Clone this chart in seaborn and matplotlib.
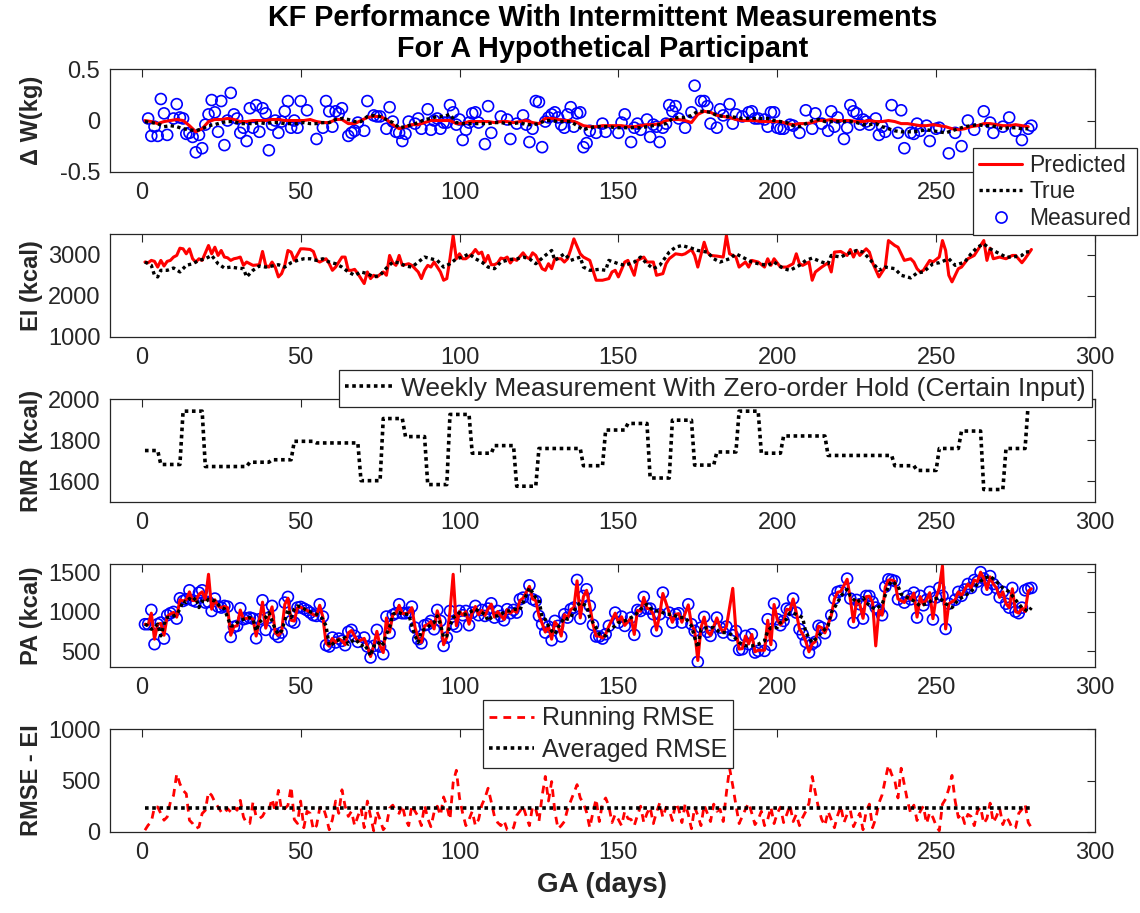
import numpy as np
import pandas as pd
import matplotlib
matplotlib.use("Agg")
import matplotlib.pyplot as plt
import seaborn as sns
from matplotlib.lines import Line2D

sns.set_theme(style="white")
plt.rcParams["font.family"] = ["Liberation Sans", "DejaVu Sans"]
plt.rcParams["axes.unicode_minus"] = False

# ---------------- DATA ----------------
# common two-day grid used by the smoother lines
grid_days = list(range(1, 281, 2))
all_days = list(range(1, 281))

dw_pred = [
    0.00, -0.01, -0.03, -0.01, 0.00, 0.01, 0.00, -0.05, -0.11, -0.08,
    -0.01, 0.01, 0.01, 0.02, 0.01, -0.01, -0.01, 0.00, 0.00, 0.00,
    0.01, 0.01, 0.00, 0.00, 0.00, 0.00, 0.01, -0.01, -0.02, -0.02,
    0.01, 0.01, -0.03, -0.03, 0.00, 0.03, 0.04, 0.04, 0.01, -0.04,
    -0.08, -0.06, -0.04, -0.04, -0.02, 0.00, 0.00, 0.00, 0.00, -0.03,
    -0.03, -0.01, -0.01, -0.01, -0.01, -0.02, -0.01, -0.01, -0.02, -0.01,
    0.00, -0.02, -0.03, 0.02, 0.02, 0.01, 0.00, 0.00, -0.02, -0.05,
    -0.06, -0.06, -0.05, -0.05, -0.05, -0.05, -0.06, -0.06, -0.05, -0.04,
    -0.04, -0.03, 0.00, 0.01, 0.01, 0.00, -0.02, 0.06, 0.09, 0.08,
    0.05, 0.04, 0.03, 0.01, 0.00, 0.00, 0.00, -0.01, -0.01, -0.01,
    -0.01, -0.03, -0.04, -0.03, -0.03, -0.02, 0.00, 0.00, 0.01, 0.00,
    0.00, 0.00, -0.01, -0.01, 0.00, -0.01, -0.01, 0.00, -0.01, -0.03,
    -0.03, -0.04, -0.05, -0.05, -0.04, -0.05, -0.06, -0.08, -0.09, -0.08,
    -0.06, -0.05, -0.03, -0.03, -0.04, -0.05, -0.05, -0.04, -0.05, -0.06]

dw_true = [
    -0.01, -0.02, -0.03, -0.06, -0.05, -0.06, -0.08, -0.09, -0.10, -0.08,
    -0.05, -0.04, -0.02, -0.01, -0.01, -0.03, -0.03, -0.03, -0.02, -0.03,
    -0.02, -0.02, -0.03, -0.03, -0.03, -0.02, -0.03, -0.03, -0.02, -0.02,
    0.01, 0.02, 0.01, -0.01, -0.01, 0.04, 0.05, 0.04, 0.01, -0.02,
    -0.07, -0.06, -0.04, -0.02, 0.01, 0.02, 0.04, 0.04, 0.06, -0.02,
    -0.03, -0.03, -0.03, -0.03, -0.03, -0.02, -0.02, -0.03, -0.03, -0.02,
    -0.04, -0.04, -0.03, 0.00, 0.00, -0.01, -0.01, -0.01, -0.05, -0.09,
    -0.07, -0.06, -0.06, -0.06, -0.07, -0.07, -0.07, -0.07, -0.07, -0.06,
    -0.05, -0.04, -0.03, 0.02, 0.03, 0.03, 0.05, 0.09, 0.09, 0.08,
    0.05, 0.04, 0.04, 0.03, 0.02, 0.02, 0.02, 0.02, 0.02, 0.00,
    -0.01, -0.02, -0.05, -0.06, -0.03, 0.00, 0.01, -0.01, -0.01, -0.01,
    -0.01, -0.01, -0.02, -0.04, -0.04, -0.03, -0.06, -0.08, -0.10, -0.11,
    -0.11, -0.11, -0.10, -0.09, -0.10, -0.11, -0.12, -0.10, -0.08, -0.06,
    -0.05, -0.04, -0.05, -0.05, -0.06, -0.08, -0.07, -0.07, -0.08, -0.08]

dw_meas_days = [
    2, 3, 4, 5, 6, 7, 8, 10, 11, 12, 13, 14, 15, 16, 17, 18, 19, 20, 21, 22,
    23, 24, 25, 26, 27, 28, 29, 30, 31, 32, 33, 34, 35, 36, 37, 38, 39, 40, 41, 42,
    43, 44, 45, 46, 47, 48, 49, 50, 52, 55, 57, 58, 59, 60, 61, 62, 63, 65, 66, 67,
    68, 70, 71, 73, 74, 75, 77, 78, 79, 80, 81, 82, 83, 84, 86, 87, 88, 90, 91, 92,
    93, 94, 95, 96, 97, 98, 99, 100, 101, 102, 103, 104, 105, 106, 108, 109, 110, 113, 115, 116,
    118, 120, 121, 122, 123, 124, 125, 126, 127, 128, 129, 130, 131, 132, 133, 134, 135, 136, 137, 138,
    139, 140, 141, 143, 145, 146, 150, 151, 152, 154, 155, 156, 157, 159, 160, 161, 162, 163, 164, 165,
    166, 167, 168, 169, 171, 173, 174, 176, 177, 178, 179, 181, 182, 183, 185, 186, 187, 189, 191, 192,
    193, 194, 196, 197, 198, 199, 200, 201, 202, 204, 205, 207, 209, 211, 212, 214, 216, 217, 218, 219,
    221, 222, 223, 224, 225, 226, 227, 228, 229, 231, 232, 233, 234, 236, 238, 239, 240, 242, 243, 244,
    245, 247, 248, 250, 251, 254, 256, 258, 260, 262, 265, 267, 268, 271, 273, 275, 277, 279, 280]
dw_meas = [
    0.02, -0.15, -0.06, -0.15, 0.21, 0.07, -0.14, 0.02, 0.16, 0.03, 0.02, -0.13, -0.12, -0.16, -0.31, -0.14, -0.27, -0.04, 0.06, 0.20,
    0.08, -0.11, 0.19, -0.24, 0.00, 0.27, 0.06, 0.02, -0.12, -0.07, -0.20, 0.12, -0.07, 0.15, -0.11, 0.12, 0.07, -0.29, -0.04, 0.00,
    -0.12, -0.01, 0.09, 0.19, -0.07, 0.00, -0.07, 0.19, 0.10, -0.18, -0.07, 0.19, 0.09, -0.06, 0.09, 0.07, 0.12, -0.15, -0.12, -0.10,
    -0.02, -0.10, 0.19, 0.05, 0.04, 0.04, -0.08, 0.13, -0.01, -0.11, -0.12, -0.20, -0.13, -0.01, -0.03, 0.02, -0.08, 0.11, -0.09, 0.00,
    0.02, -0.08, -0.02, -0.02, 0.15, 0.08, -0.04, 0.01, -0.19, -0.09, -0.02, 0.07, 0.08, -0.02, -0.23, 0.14, -0.12, 0.04, 0.01, -0.18,
    -0.03, 0.05, -0.04, -0.21, -0.08, 0.19, 0.18, -0.26, -0.01, 0.03, 0.06, 0.08, 0.03, -0.04, -0.07, 0.06, 0.13, -0.06, 0.07, 0.08,
    -0.26, -0.22, -0.10, -0.12, -0.03, -0.11, -0.12, -0.02, 0.06, -0.21, -0.07, -0.03, -0.09, 0.01, -0.16, -0.04, -0.06, -0.21, -0.07, -0.03,
    0.15, 0.09, 0.14, 0.02, -0.07, 0.08, 0.34, 0.19, 0.19, 0.14, -0.03, -0.07, 0.11, 0.05, 0.16, -0.03, 0.06, 0.04, 0.08, 0.09,
    0.02, 0.02, 0.01, -0.06, 0.08, 0.08, -0.07, -0.08, -0.08, -0.04, -0.05, -0.12, 0.10, -0.08, 0.07, -0.03, -0.10, 0.09, -0.06, 0.03,
    -0.18, -0.07, 0.15, 0.09, 0.07, -0.04, 0.01, -0.01, -0.04, 0.02, -0.14, -0.06, -0.11, 0.15, -0.12, 0.10, -0.27, -0.12, -0.13, -0.03,
    -0.10, -0.05, -0.20, -0.08, -0.07, -0.32, -0.12, -0.25, 0.00, -0.09, 0.09, -0.02, -0.12, -0.06, 0.03, -0.10, -0.19, -0.08, -0.05]

ei_pred_days = [
    1, 2, 3, 4, 5, 6, 7, 8, 9, 10, 11, 12, 13, 14, 15, 16, 17, 18, 19, 21,
    22, 23, 24, 25, 26, 27, 28, 29, 30, 31, 32, 33, 34, 35, 37, 38, 39, 40, 41, 42,
    43, 44, 45, 46, 47, 48, 50, 51, 53, 54, 55, 56, 58, 59, 60, 61, 63, 64, 65, 66,
    67, 68, 70, 71, 72, 73, 74, 76, 77, 78, 79, 80, 81, 82, 84, 85, 87, 88, 89, 90,
    91, 92, 94, 95, 96, 97, 98, 99, 100, 101, 102, 104, 105, 106, 107, 108, 109, 110, 111, 112,
    113, 114, 115, 116, 117, 118, 120, 121, 122, 123, 124, 126, 127, 128, 129, 130, 132, 133, 134, 135,
    136, 138, 139, 141, 142, 143, 145, 147, 148, 149, 150, 152, 153, 155, 156, 157, 158, 159, 161, 162,
    164, 165, 166, 168, 170, 171, 173, 174, 175, 177, 178, 179, 181, 183, 184, 185, 187, 188, 190, 191,
    192, 194, 196, 197, 198, 199, 201, 203, 205, 206, 207, 208, 210, 211, 212, 214, 216, 217, 218, 220,
    222, 223, 224, 225, 226, 228, 229, 230, 232, 234, 235, 237, 238, 240, 242, 243, 244, 245, 246, 248,
    249, 251, 252, 253, 254, 255, 257, 258, 260, 262, 263, 265, 266, 267, 268, 270, 272, 274, 275, 277,
    278, 280]
ei_pred = [
    2823, 2806, 2863, 2840, 2700, 2863, 2726, 2840, 2863, 2944, 2984, 3161, 3145, 3024, 3145, 2903, 2823, 2903, 2863, 3226,
    3024, 3185, 2984, 3105, 2944, 2927, 2863, 2903, 2919, 2944, 2742, 2823, 2782, 2742, 2758, 3081, 2742, 2700, 2823, 2700,
    2460, 2540, 2742, 3105, 3065, 2863, 3145, 3145, 3129, 3081, 2863, 2823, 2903, 2782, 2621, 2700, 2944, 2944, 2621, 2621,
    2645, 2540, 2298, 2581, 2419, 2500, 2460, 2581, 2500, 2984, 2806, 2742, 2984, 2742, 2782, 2742, 2581, 2419, 2621, 2742,
    2700, 2823, 2581, 2379, 2419, 2903, 3468, 2903, 3024, 2903, 2903, 3024, 3129, 3024, 3065, 2823, 2984, 2758, 2758, 2800,
    2920, 2900, 2944, 2800, 2900, 2863, 3048, 2944, 2903, 3048, 2984, 2661, 2621, 2782, 2661, 2903, 2903, 2823, 2903, 3129,
    3387, 3024, 2944, 2863, 2621, 2379, 2379, 2419, 2581, 2621, 2460, 2823, 2863, 2500, 2863, 2903, 2944, 2823, 2823, 2500,
    2540, 2782, 2903, 3024, 3000, 3024, 3129, 2984, 2700, 3306, 3065, 2984, 2968, 2944, 3470, 3024, 2944, 2700, 2823, 2700,
    2863, 2823, 2700, 2903, 2742, 2903, 2700, 2700, 2782, 3024, 2782, 2742, 2823, 2379, 2581, 2700, 2806, 2581, 3065, 3081,
    2984, 3129, 2944, 3105, 2984, 3145, 3065, 2806, 2460, 2700, 3347, 3226, 3185, 2863, 2903, 2823, 2661, 2581, 2621, 2863,
    2823, 2944, 3347, 3105, 2500, 2339, 2661, 2700, 2903, 2984, 3105, 3347, 2863, 3161, 2903, 2944, 2903, 2984, 2984, 2806,
    2903, 3129]

ei_true_days = [
    1, 3, 4, 5, 6, 8, 10, 12, 14, 16, 18, 20, 22, 24, 26, 28, 30, 32, 33, 35,
    37, 39, 41, 43, 45, 47, 49, 51, 53, 55, 57, 59, 61, 63, 65, 67, 69, 71, 73, 75,
    77, 79, 81, 83, 85, 87, 89, 91, 93, 95, 97, 99, 101, 103, 105, 107, 109, 111, 113, 116,
    118, 120, 122, 124, 127, 129, 130, 133, 135, 138, 139, 141, 144, 146, 147, 150, 152, 155, 157, 159,
    161, 163, 166, 168, 170, 173, 175, 178, 180, 182, 185, 187, 190, 192, 194, 197, 199, 202, 204, 207,
    209, 211, 214, 216, 217, 220, 222, 225, 227, 229, 232, 234, 237, 239, 242, 244, 246, 249, 251, 254,
    256, 259, 261, 263, 265, 267, 269, 272, 274, 277, 278, 280]
ei_true = [
    2823, 2742, 2500, 2460, 2621, 2621, 2677, 2581, 2742, 2782, 2863, 2903, 2984, 2782, 2677, 2700, 2677, 2661, 2460, 2621,
    2726, 2700, 2726, 2758, 2700, 2806, 2863, 2903, 2903, 2863, 2903, 2823, 2782, 2700, 2581, 2500, 2581, 2540, 2460, 2500,
    2677, 2823, 2806, 2726, 2700, 2823, 2944, 2903, 2863, 2700, 2782, 2903, 2944, 3024, 2903, 2823, 2700, 2661, 2823, 2887,
    2900, 2944, 2903, 2782, 2984, 3105, 2863, 3024, 2863, 2944, 2700, 2621, 2645, 2621, 2863, 2782, 2742, 2823, 2944, 2782,
    2661, 2742, 3065, 3185, 3226, 3161, 3105, 3065, 2903, 2823, 2903, 3024, 2903, 2823, 2782, 2742, 2823, 2661, 2621, 2742,
    2863, 2919, 2823, 2782, 2984, 2944, 3024, 3105, 3065, 2903, 2621, 2700, 2661, 2500, 2436, 2556, 2581, 2782, 2806, 2903,
    2742, 2823, 3024, 3185, 3266, 3145, 3065, 2944, 2944, 2984, 3065, 3080]

# RMR: weekly measurement, held for 7 days (first value held for days 1-5)
rmr_first = 1750
rmr_weekly = [1682, 1942, 1672, 1672, 1693, 1705, 1795, 1787, 1787, 1603,
              1906, 1818, 1584, 1926, 1737, 1774, 1576, 1760, 1760, 1676,
              1850, 1882, 1616, 1898, 1679, 1743, 1942, 1737, 1821, 1821,
              1726, 1726, 1726, 1676, 1653, 1760, 1845, 1560, 1760, 1980]

pa_true_days = [
    1, 2, 3, 4, 5, 6, 7, 8, 10, 11, 12, 13, 14, 15, 16, 17, 18, 19, 20, 21,
    23, 24, 25, 26, 27, 28, 29, 30, 31, 32, 34, 35, 36, 37, 38, 39, 40, 41, 42, 43,
    44, 45, 46, 47, 48, 49, 51, 52, 54, 55, 56, 57, 58, 59, 60, 61, 63, 64, 65, 67,
    68, 69, 70, 71, 72, 73, 74, 75, 76, 77, 78, 79, 80, 81, 82, 83, 84, 85, 86, 87,
    88, 89, 90, 91, 92, 93, 94, 95, 96, 97, 98, 99, 100, 101, 102, 103, 104, 105, 106, 107,
    108, 109, 110, 111, 112, 113, 114, 115, 116, 117, 119, 120, 122, 124, 125, 126, 127, 128, 129, 130,
    131, 132, 133, 134, 135, 136, 137, 138, 140, 141, 143, 144, 146, 147, 149, 150, 152, 155, 157, 159,
    161, 163, 165, 167, 169, 171, 173, 174, 175, 176, 178, 180, 182, 184, 186, 188, 190, 192, 194, 196,
    197, 198, 200, 201, 203, 204, 206, 208, 209, 211, 212, 214, 216, 217, 219, 220, 222, 223, 225, 227,
    228, 230, 231, 233, 235, 236, 238, 239, 241, 243, 245, 247, 249, 251, 253, 255, 257, 259, 261, 263,
    265, 267, 269, 271, 273, 275, 277, 279, 280]
pa_true = [
    840, 819, 776, 800, 840, 692, 840, 924, 945, 966, 1030, 1135, 1114, 1165, 1135, 1177, 1051, 1135, 1114, 1156,
    1135, 1093, 1051, 1038, 924, 819, 819, 861, 882, 903, 924, 903, 755, 861, 903, 924, 987, 882, 776, 713,
    755, 882, 1030, 924, 1030, 1072, 1038, 1008, 987, 966, 945, 903, 819, 565, 586, 629, 650, 671, 586, 650,
    616, 565, 586, 523, 439, 565, 557, 629, 586, 713, 797, 966, 987, 987, 966, 966, 966, 819, 692, 608,
    755, 776, 797, 840, 861, 945, 840, 671, 692, 819, 924, 945, 987, 966, 966, 987, 1008, 1030, 1008, 987,
    966, 882, 924, 945, 945, 966, 990, 1008, 1010, 1030, 1021, 1114, 1304, 1177, 1156, 924, 903, 819, 755, 713,
    797, 861, 924, 903, 924, 1008, 1072, 1114, 1072, 924, 797, 713, 692, 768, 819, 861, 882, 945, 1030, 1093,
    1008, 1008, 966, 966, 924, 924, 819, 671, 544, 776, 797, 797, 734, 734, 700, 608, 565, 565, 586, 629,
    755, 797, 797, 861, 903, 987, 966, 924, 734, 608, 650, 734, 819, 987, 1114, 1198, 1283, 1198, 1114, 1177,
    1114, 1051, 1030, 1093, 1325, 1388, 1325, 1219, 1177, 1135, 1072, 1100, 1150, 1180, 1100, 1050, 1150, 1200, 1250, 1350,
    1420, 1450, 1380, 1300, 1250, 1150, 1050, 1000, 1050]

pa_meas_days = [
    1, 2, 3, 4, 5, 6, 7, 8, 9, 10, 11, 12, 13, 14, 15, 16, 17, 18, 19, 20,
    21, 22, 23, 24, 25, 26, 27, 28, 29, 30, 31, 32, 33, 34, 35, 36, 37, 38, 39, 40,
    41, 42, 43, 44, 45, 46, 47, 48, 49, 50, 51, 52, 53, 54, 55, 56, 57, 58, 59, 60,
    61, 62, 63, 64, 65, 66, 67, 68, 70, 71, 72, 73, 74, 75, 76, 77, 78, 79, 80, 81,
    82, 83, 84, 85, 86, 87, 88, 89, 90, 91, 92, 93, 94, 95, 96, 97, 98, 99, 100, 101,
    102, 103, 104, 105, 106, 107, 108, 109, 110, 111, 112, 113, 114, 115, 116, 117, 118, 119, 120, 122,
    123, 124, 125, 126, 127, 128, 129, 130, 131, 132, 133, 134, 135, 136, 137, 138, 139, 140, 141, 142,
    143, 144, 145, 146, 147, 149, 150, 151, 152, 154, 155, 156, 157, 158, 159, 160, 161, 162, 163, 164,
    166, 167, 168, 169, 170, 172, 173, 174, 175, 176, 177, 178, 179, 181, 182, 183, 184, 186, 187, 188,
    189, 190, 191, 192, 193, 194, 196, 197, 198, 199, 200, 201, 202, 203, 204, 205, 206, 207, 208, 209,
    210, 211, 212, 213, 214, 215, 217, 218, 219, 220, 222, 223, 224, 225, 226, 227, 228, 229, 230, 231,
    232, 233, 234, 235, 236, 237, 238, 240, 241, 242, 243, 244, 245, 246, 247, 248, 249, 250, 251, 252,
    253, 254, 256, 257, 258, 259, 260, 261, 262, 263, 264, 265, 266, 267, 268, 269, 270, 271, 272, 273,
    274, 275, 276, 277, 278, 279, 280]
pa_meas = [
    840, 840, 1021, 587, 840, 861, 658, 954, 979, 996, 911, 1169, 1135, 1156, 1270, 1143, 1127, 1240, 1270, 1114,
    1122, 1008, 1165, 1063, 1051, 1072, 1063, 679, 806, 819, 1042, 903, 916, 924, 911, 662, 903, 1143, 768, 924,
    1072, 713, 679, 734, 1114, 1186, 882, 861, 1051, 1059, 1038, 1017, 987, 954, 945, 1093, 937, 574, 557, 671,
    608, 658, 629, 574, 743, 768, 692, 616, 671, 557, 418, 565, 768, 557, 460, 937, 726, 958, 979, 1093,
    979, 979, 987, 1063, 797, 650, 599, 827, 840, 882, 776, 1021, 882, 565, 671, 1008, 840, 810, 1008, 954,
    1008, 827, 987, 1072, 954, 1021, 945, 1038, 1105, 924, 1008, 945, 890, 1030, 979, 1021, 987, 1156, 1177, 1333,
    1156, 1135, 945, 840, 734, 810, 637, 882, 819, 684, 966, 924, 1030, 1051, 1401, 911, 1198, 1283, 1072, 831,
    684, 684, 658, 713, 819, 987, 861, 937, 819, 924, 705, 1021, 1008, 1186, 1038, 1038, 966, 755, 966, 1240,
    987, 861, 966, 979, 861, 1093, 840, 755, 363, 797, 933, 743, 692, 924, 797, 734, 810, 700, 755, 515,
    523, 692, 586, 713, 481, 502, 502, 903, 574, 1101, 903, 827, 882, 1038, 1021, 1165, 987, 776, 713, 616,
    481, 587, 616, 819, 797, 726, 954, 1165, 1249, 1262, 1418, 1165, 861, 1148, 1093, 911, 1198, 1198, 1122, 1051,
    1017, 954, 1316, 1409, 1401, 1388, 1156, 1114, 1198, 1156, 1240, 924, 1200, 1080, 1150, 1250, 900, 1180, 1300, 1200,
    780, 1100, 1150, 1250, 1200, 1280, 1350, 1300, 1400, 1380, 1500, 1420, 1280, 1450, 1350, 1300, 1180, 1250, 1100, 1050,
    1300, 1000, 980, 1050, 1270, 1290, 1300]

pa_pred_days = pa_meas_days
pa_pred = [
    840, 830, 980, 650, 840, 850, 700, 940, 970, 990, 930, 1150, 1135, 1150, 1250, 1140, 1140, 1220, 1250, 1150,
    1473, 1030, 1150, 1070, 1050, 1065, 1050, 700, 810, 820, 1020, 905, 915, 920, 905, 690, 890, 1120, 790, 930,
    1060, 730, 700, 740, 1090, 1170, 890, 880, 1050, 1055, 1035, 1015, 990, 960, 950, 1080, 930, 600, 560, 660,
    610, 655, 630, 580, 730, 760, 690, 620, 660, 560, 430, 565, 750, 560, 480, 920, 740, 960, 980, 1080,
    975, 975, 985, 1050, 800, 660, 610, 820, 835, 875, 780, 1010, 875, 580, 675, 1000, 1473, 820, 1000, 955,
    1000, 840, 985, 1065, 960, 1015, 950, 1035, 1095, 930, 1000, 950, 900, 1025, 980, 1015, 990, 1140, 1170, 1320,
    1160, 1140, 950, 850, 740, 810, 650, 870, 820, 690, 960, 920, 1025, 1050, 1390, 920, 1190, 1270, 1070, 840,
    690, 690, 665, 715, 815, 980, 865, 935, 825, 920, 710, 1015, 1005, 1180, 1040, 1035, 965, 765, 960, 1230,
    985, 865, 965, 975, 865, 1085, 840, 760, 380, 795, 930, 745, 700, 920, 800, 735, 810, 1295, 755, 525,
    530, 690, 590, 710, 490, 510, 510, 890, 580, 1090, 900, 830, 880, 1030, 1020, 1160, 985, 780, 715, 620,
    490, 590, 620, 815, 795, 730, 950, 1160, 1245, 1255, 1410, 1160, 870, 1140, 1090, 915, 1190, 1195, 1120, 565,
    1020, 955, 1310, 1400, 1400, 1385, 1160, 1115, 1195, 1155, 1235, 930, 1190, 1090, 1150, 1240, 910, 1180, 1300, 1580,
    780, 1100, 1150, 1250, 1200, 1280, 1350, 1300, 1400, 1380, 1500, 1420, 1280, 1440, 1350, 1300, 1180, 1250, 1100, 1050,
    1290, 1000, 980, 1050, 1000, 1260, 1290]

# running RMSE of EI, one value per day (days 1..280)
rmse_running = [
    16, 65, 97, 242, 242, 178, 113, 145, 290, 355, 565, 468, 404, 371, 113, 81, 32, 48, 178, 210,
    388, 355, 290, 242, 194, 178, 226, 194, 242, 210, 307, 145, 81, 81, 290, 145, 129, 152, 210, 210,
    323, 194, 404, 210, 226, 258, 440, 120, 81, 300, 40, 200, 180, 20, 60, 230, 250, 150, 20, 120,
    300, 180, 410, 250, 150, 200, 60, 150, 230, 40, 300, 150, 10, 200, 120, 20, 60, 230, 260, 200,
    180, 260, 120, 60, 260, 200, 150, 60, 260, 130, 50, 190, 250, 160, 340, 250, 120, 480, 600, 330,
    180, 60, 120, 200, 60, 120, 260, 330, 425, 290, 150, 90, 60, 110, 20, 10, 40, 160, 200, 250,
    150, 60, 250, 220, 100, 350, 540, 300, 490, 200, 30, 60, 100, 220, 300, 380, 460, 330, 280, 190,
    40, 190, 320, 100, 280, 330, 250, 90, 170, 120, 60, 200, 130, 120, 60, 160, 250, 90, 180, 240,
    80, 190, 280, 140, 240, 210, 110, 280, 220, 90, 270, 170, 30, 240, 160, 60, 260, 180, 100, 270,
    200, 220, 100, 380, 620, 450, 260, 80, 150, 220, 280, 180, 70, 120, 200, 60, 120, 240, 80, 180,
    240, 90, 170, 260, 100, 170, 60, 140, 200, 280, 540, 380, 230, 120, 60, 200, 120, 40, 160, 250,
    90, 170, 210, 50, 120, 180, 20, 200, 270, 40, 130, 280, 360, 510, 650, 560, 500, 330, 620, 460,
    300, 180, 260, 110, 200, 250, 80, 190, 140, 60, 10, 270, 320, 420, 550, 300, 140, 180, 80, 170,
    150, 60, 200, 240, 80, 130, 280, 90, 150, 230, 70, 150, 100, 30, 40, 180, 220, 270, 90, 40]
rmse_avg = 236
rmse_days = [1, 280]

# ---------------- FIGURE ----------------
fig = plt.figure(figsize=(11.4, 9.13), dpi=100)
left, width, height = 0.0965, 0.864, 0.1123
tops_px = [69.3, 234.3, 399.3, 564.3, 729.3]
axes = []
for t in tops_px:
    bottom = 1 - (t + 102.5) / 913
    axes.append(fig.add_axes([left, bottom, width, height]))

DOT = (0, (1.0, 1.0))
DASH = (0, (2.8, 2.2))
edge = (0.15, 0.15, 0.15)


def style(ax, ylim, yticks, yticklabels, ylabel):
    ax.set_xlim(-10, 300)
    ax.set_ylim(*ylim)
    ax.set_xticks([0, 50, 100, 150, 200, 250, 300])
    ax.set_yticks(yticks)
    ax.set_yticklabels(yticklabels)
    ax.tick_params(direction="in", top=True, right=True, length=6, width=0.8,
                   labelsize=17, colors=edge, pad=7)
    for s in ax.spines.values():
        s.set_color(edge)
        s.set_linewidth(0.9)
    ax.set_xlabel("")
    ax.set_ylabel(ylabel, fontsize=17, fontweight="bold", color=edge)
    ax.yaxis.set_label_coords(-0.068, 0.5)
    ax.grid(False)


def dotted(ax, x, y, lw=2.4):
    sns.lineplot(x=x, y=y, ax=ax, color="black", linewidth=lw,
                 estimator=None, sort=False, legend=False)
    ln = ax.lines[-1]
    ln.set_linestyle(DOT)
    ln.set_dash_capstyle("butt")


def circles(ax, x, y):
    sns.scatterplot(x=x, y=y, ax=ax, marker="o", s=62, legend=False)
    coll = ax.collections[-1]
    coll.set_facecolor("none")
    coll.set_edgecolor("blue")
    coll.set_linewidth(1.2)


# Panel 1: Delta W
ax = axes[0]
sns.lineplot(x=grid_days, y=dw_pred, ax=ax, color="red", linewidth=2.2,
             estimator=None, sort=False, legend=False)
dotted(ax, grid_days, dw_true)
circles(ax, dw_meas_days, dw_meas)
style(ax, (-0.5, 0.5), [-0.5, 0, 0.5], ["-0.5", "0", "0.5"], "\u0394 W(kg)")
ax.set_title("KF Performance With Intermittent Measurements\nFor A Hypothetical Participant",
             fontsize=20.8, fontweight="bold", pad=9, color="black", linespacing=1.12)

# Panel 2: EI
ax = axes[1]
sns.lineplot(x=ei_pred_days, y=ei_pred, ax=ax, color="red", linewidth=2.2,
             estimator=None, sort=False, legend=False)
dotted(ax, ei_true_days, ei_true)
style(ax, (1000, 3500), [1000, 2000, 3000], ["1000", "2000", "3000"], "EI (kcal)")

# Panel 3: RMR (zero-order hold of weekly values)
ax = axes[2]
rmr_daily = ([rmr_first] * 5 + list(np.repeat(rmr_weekly, 7)))[:280]
dotted(ax, all_days, rmr_daily, lw=2.6)
style(ax, (1500, 2000), [1600, 1800, 2000], ["1600", "1800", "2000"], "RMR (kcal)")

# Panel 4: PA
ax = axes[3]
sns.lineplot(x=pa_pred_days, y=pa_pred, ax=ax, color="red", linewidth=2.2,
             estimator=None, sort=False, legend=False)
dotted(ax, pa_true_days, pa_true)
circles(ax, pa_meas_days, pa_meas)
style(ax, (300, 1600), [500, 1000, 1500], ["500", "1000", "1500"], "PA (kcal)")

# Panel 5: RMSE
ax = axes[4]
sns.lineplot(x=all_days, y=rmse_running, ax=ax, color="red", linewidth=2.0,
             estimator=None, sort=False, legend=False)
ax.lines[-1].set_linestyle(DASH)
dotted(ax, rmse_days, [rmse_avg, rmse_avg], lw=2.6)
style(ax, (0, 1000), [0, 500, 1000], ["0", "500", "1000"], "RMSE - EI")
ax.set_xlabel("GA (days)", fontsize=20, fontweight="bold", color=edge, labelpad=6)

# ---------------- LEGENDS ----------------
leg_kw = dict(frameon=True, fancybox=False, framealpha=1, edgecolor=edge,
              borderaxespad=0, handletextpad=0.3, borderpad=0.25)

h1 = [Line2D([], [], color="red", lw=2.2),
      Line2D([], [], color="black", lw=2.4, linestyle=DOT),
      Line2D([], [], color="blue", marker="o", markerfacecolor="none",
             markeredgewidth=1.2, markersize=8, linestyle="none")]
lg1 = fig.legend(h1, ["Predicted", "True", "Measured"], loc="upper left",
                 bbox_to_anchor=(973 / 1140, 1 - 148 / 913), fontsize=16.5,
                 handlelength=1.9, labelspacing=0.15, **leg_kw)
lg1.get_frame().set_linewidth(0.9)

h3 = [Line2D([], [], color="black", lw=2.6, linestyle=DOT)]
lg3 = fig.legend(h3, ["Weekly Measurement With Zero-order Hold (Certain Input)"],
                 loc="upper right", bbox_to_anchor=(1092 / 1140, 1 - 370 / 913),
                 fontsize=19, handlelength=1.8, **leg_kw)
lg3.get_frame().set_linewidth(0.9)

h5 = [Line2D([], [], color="red", lw=2.0, linestyle=DASH),
      Line2D([], [], color="black", lw=2.6, linestyle=DOT)]
lg5 = fig.legend(h5, ["Running RMSE", "Averaged RMSE"], loc="upper left",
                 bbox_to_anchor=(483 / 1140, 1 - 700 / 913), fontsize=18,
                 handlelength=1.8, labelspacing=0.3, **leg_kw)
lg5.get_frame().set_linewidth(0.9)

fig.savefig("out.png", dpi=100, facecolor="white")
